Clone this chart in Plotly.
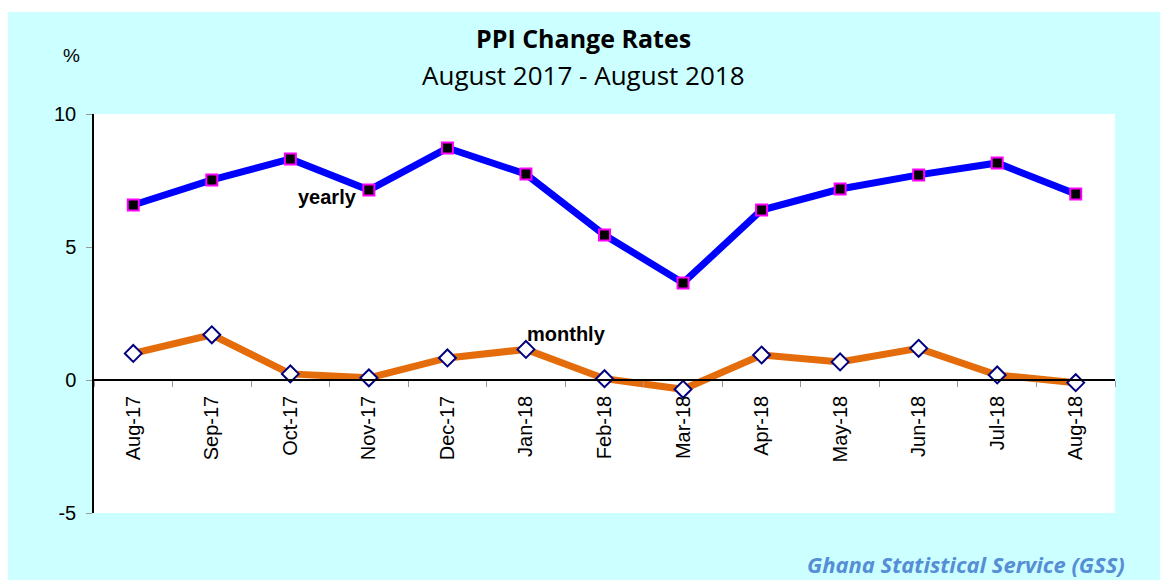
import plotly.graph_objects as go

months = ["Aug-17", "Sep-17", "Oct-17", "Nov-17", "Dec-17", "Jan-18", "Feb-18",
          "Mar-18", "Apr-18", "May-18", "Jun-18", "Jul-18", "Aug-18"]
yearly = [6.58, 7.52, 8.31, 7.14, 8.72, 7.74, 5.45, 3.65, 6.39, 7.18, 7.71, 8.16, 6.99]
monthly = [1.00, 1.70, 0.23, 0.08, 0.83, 1.15, 0.05, -0.35, 0.94, 0.68, 1.19, 0.19, -0.10]
y_ticks = [-5, 0, 5, 10]
y_tick_labels = ["-5", "0", "5", "10"]

# page body has an 8px margin; figure coords = screen coords - 8
OFF = 8
W, H = 1160, 572
L, R, T, B = 86, 53, 106, 67
pw, ph = W - L - R, H - T - B

def px(sx):
    return (sx - OFF - L) / pw

def py(sy):
    return (H - B - (sy - OFF)) / ph

fig = go.Figure()
fig.add_trace(go.Scatter(
    x=months, y=yearly, mode="lines+markers", name="yearly",
    line=dict(color="#0000FF", width=7),
    marker=dict(symbol="square", size=11, color="#000000",
                line=dict(color="#FF00FF", width=2)),
    cliponaxis=False))
fig.add_trace(go.Scatter(
    x=months, y=monthly, mode="lines+markers", name="monthly",
    line=dict(color="#E46C0A", width=7),
    marker=dict(symbol="diamond", size=13, color="#FFFFFF",
                line=dict(color="#000080", width=2)),
    cliponaxis=False))

fig.update_layout(
    width=W, height=H,
    margin=dict(l=L, r=R, t=T, b=B),
    paper_bgcolor="#CCFFFF", plot_bgcolor="#FFFFFF",
    showlegend=False,
    font=dict(family="Liberation Sans, Arial", color="#000000"),
    xaxis=dict(
        type="category", range=[-0.5, 12.5],
        anchor="free", position=1/3,
        showline=True, linecolor="#000000", linewidth=1.5,
        ticks="outside", tickson="boundaries", ticklen=6, tickcolor="#999999",
        ticklabelstandoff=7,
        tickangle=-90, tickfont=dict(size=20, family="Liberation Sans, Arial"),
        showgrid=False, zeroline=False),
    yaxis=dict(
        range=[-5, 10], tickvals=y_ticks, ticktext=y_tick_labels,
        showline=True, linecolor="#000000", linewidth=1.5,
        ticks="outside", ticklen=6, tickcolor="#999999",
        ticklabelstandoff=6,
        tickfont=dict(size=20, family="Liberation Sans, Arial"),
        showgrid=False, zeroline=False),
)

# white strip at the top of the page
fig.add_shape(type="rect", xref="paper", yref="paper",
              x0=px(0), x1=px(1180), y0=py(12), y1=py(0),
              fillcolor="#FFFFFF", line=dict(width=0), layer="below")

def note(text, sx, sy, size, family="Liberation Sans, Arial", color="#000000",
         yanchor="middle"):
    fig.add_annotation(text=text, xref="paper", yref="paper",
                       x=px(sx), y=py(sy), xanchor="center", yanchor=yanchor,
                       showarrow=False,
                       font=dict(family=family, size=size, color=color))

note("<b>PPI Change Rates</b>", 583, 38, 25, family="Open Sans")
note("August 2017 - August 2018", 583, 75, 26, family="Open Sans")
note("%", 71, 56, 19)
note("<b><i>Ghana Statistical Service (GSS)</i></b>", 966, 564, 22,
     family="Open Sans", color="#558ED5")

fig.add_annotation(text="<b>yearly</b>", x=2.467, y=6.88, xref="x", yref="y",
                   showarrow=False, font=dict(size=20, color="#000000"))
fig.add_annotation(text="<b>monthly</b>", x=5.51, y=1.73, xref="x", yref="y",
                   showarrow=False, font=dict(size=20, color="#000000"))

fig.write_html("out.html")
